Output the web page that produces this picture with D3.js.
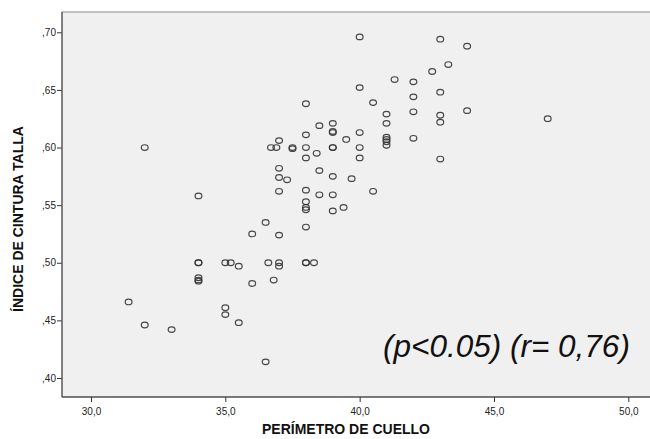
<!DOCTYPE html>
<html>
<head>
<meta charset="utf-8">
<script src="https://cdn.jsdelivr.net/npm/d3@7"></script>
<style>
  body { margin: 0; background: #fff; }
  svg { display: block; }
</style>
</head>
<body>
<svg id="chart" width="650" height="439"></svg>
<script>
// perímetro de cuello (cm)
const cuello = [
  40, 40, 38, 39, 38.5, 39, 39, 39.5, 40, 38,
  37, 36.7, 36.9, 37.5, 37.5, 38, 39, 39, 40, 38.4,
  38, 40, 32, 37, 38.5, 39, 39.7, 37, 37.3, 37,
  38, 38.5, 39, 34, 43, 44, 43.3, 42.7, 41.3, 42,
  42, 43, 40.5, 41, 42, 43, 44, 41, 43, 47,
  41, 41, 41, 41, 42, 43, 40.5, 38, 38, 38,
  39, 39.4, 36.5, 38, 36, 37, 34, 34, 35, 35.2,
  35.5, 36.6, 37, 37, 38, 38, 38.3, 34, 34, 34,
  36, 36.8, 31.4, 35, 35, 35.5, 32, 33, 36.5
];
// índice cintura / talla
const ict = [
  0.696, 0.652, 0.638, 0.621, 0.619, 0.614, 0.613, 0.607, 0.613, 0.611,
  0.606, 0.600, 0.600, 0.600, 0.599, 0.600, 0.600, 0.600, 0.600, 0.595,
  0.591, 0.591, 0.600, 0.582, 0.580, 0.575, 0.573, 0.574, 0.572, 0.562,
  0.563, 0.559, 0.559, 0.558, 0.694, 0.688, 0.672, 0.666, 0.659, 0.657,
  0.644, 0.648, 0.639, 0.629, 0.631, 0.628, 0.632, 0.621, 0.622, 0.625,
  0.609, 0.607, 0.605, 0.602, 0.608, 0.590, 0.562, 0.553, 0.548, 0.546,
  0.545, 0.548, 0.535, 0.531, 0.525, 0.524, 0.500, 0.500, 0.500, 0.500,
  0.497, 0.500, 0.500, 0.497, 0.500, 0.500, 0.500, 0.487, 0.485, 0.484,
  0.482, 0.485, 0.466, 0.461, 0.455, 0.448, 0.446, 0.442, 0.414
];
const xTicks = [30, 35, 40, 45, 50];
const yTicks = [0.40, 0.45, 0.50, 0.55, 0.60, 0.65, 0.70];

const data = cuello.map((c, i) => ({x: c, y: ict[i]}));

const svg = d3.select("#chart");
const plot = {left: 62, right: 652, top: 12, bottom: 397};

const xScale = d3.scaleLinear().domain([30, 50]).range([91, 628.3]);
const yScale = d3.scaleLinear().domain([0.40, 0.70]).range([378, 32.3]);

const fmtX = d => d3.format(".1f")(d).replace(".", ",");
const fmtY = d => d3.format(".2f")(d).replace("0.", ",");

// plot background
svg.append("rect")
  .attr("x", plot.left).attr("y", plot.top)
  .attr("width", plot.right - plot.left).attr("height", plot.bottom - plot.top)
  .attr("fill", "#f0f0f0")
  .attr("stroke", "#8a8a8a").attr("stroke-width", 1);

// axes
const xAxis = svg.append("g")
  .attr("transform", `translate(0, ${plot.bottom})`)
  .call(d3.axisBottom(xScale).tickValues(xTicks).tickFormat(fmtX).tickSize(5).tickSizeOuter(0));
const yAxis = svg.append("g")
  .attr("transform", `translate(${plot.left}, 0)`)
  .call(d3.axisLeft(yScale).tickValues(yTicks).tickFormat(fmtY).tickSize(5).tickSizeOuter(0));

[xAxis, yAxis].forEach(g => {
  g.select(".domain").remove();
  g.selectAll("line").attr("stroke", "#333");
  g.selectAll("text")
    .attr("fill", "#222")
    .style("font-family", "Liberation Sans, Arial, sans-serif")
    .style("font-size", "10px");
});
xAxis.selectAll("text").attr("dy", "0.9em").attr("y", 9);
yAxis.selectAll("text").attr("x", -6);

// axis lines (left and bottom, darker)
svg.append("line")
  .attr("x1", plot.left).attr("x2", plot.right)
  .attr("y1", plot.bottom).attr("y2", plot.bottom)
  .attr("stroke", "#333").attr("stroke-width", 1.2);
svg.append("line")
  .attr("x1", plot.left).attr("x2", plot.left)
  .attr("y1", plot.top).attr("y2", plot.bottom)
  .attr("stroke", "#555").attr("stroke-width", 1.2);

// points
svg.append("g")
  .selectAll("ellipse")
  .data(data)
  .join("ellipse")
    .attr("cx", d => xScale(d.x))
    .attr("cy", d => yScale(d.y))
    .attr("rx", 3.4)
    .attr("ry", 2.8)
    .attr("fill", "none")
    .attr("stroke", "#333")
    .attr("stroke-opacity", 0.9)
    .attr("stroke-width", 1.2);

// axis titles
svg.append("text")
  .attr("x", 346).attr("y", 434)
  .attr("text-anchor", "middle")
  .style("font-family", "Liberation Sans, Arial, sans-serif")
  .style("font-weight", "bold")
  .style("font-size", "14px")
  .attr("fill", "#111")
  .text("PERÍMETRO DE CUELLO");

svg.append("text")
  .attr("transform", "translate(23, 219) rotate(-90)")
  .attr("text-anchor", "middle")
  .style("font-family", "Liberation Sans, Arial, sans-serif")
  .style("font-weight", "bold")
  .style("font-size", "14px")
  .attr("fill", "#111")
  .text("ÍNDICE DE CINTURA TALLA");

// annotation
svg.append("text")
  .attr("x", 383).attr("y", 357)
  .style("font-family", "Liberation Sans, Arial, sans-serif")
  .style("font-style", "italic")
  .style("font-size", "31.5px")
  .attr("fill", "#111")
  .text("(p<0.05) (r= 0,76)");
</script>
</body>
</html>
